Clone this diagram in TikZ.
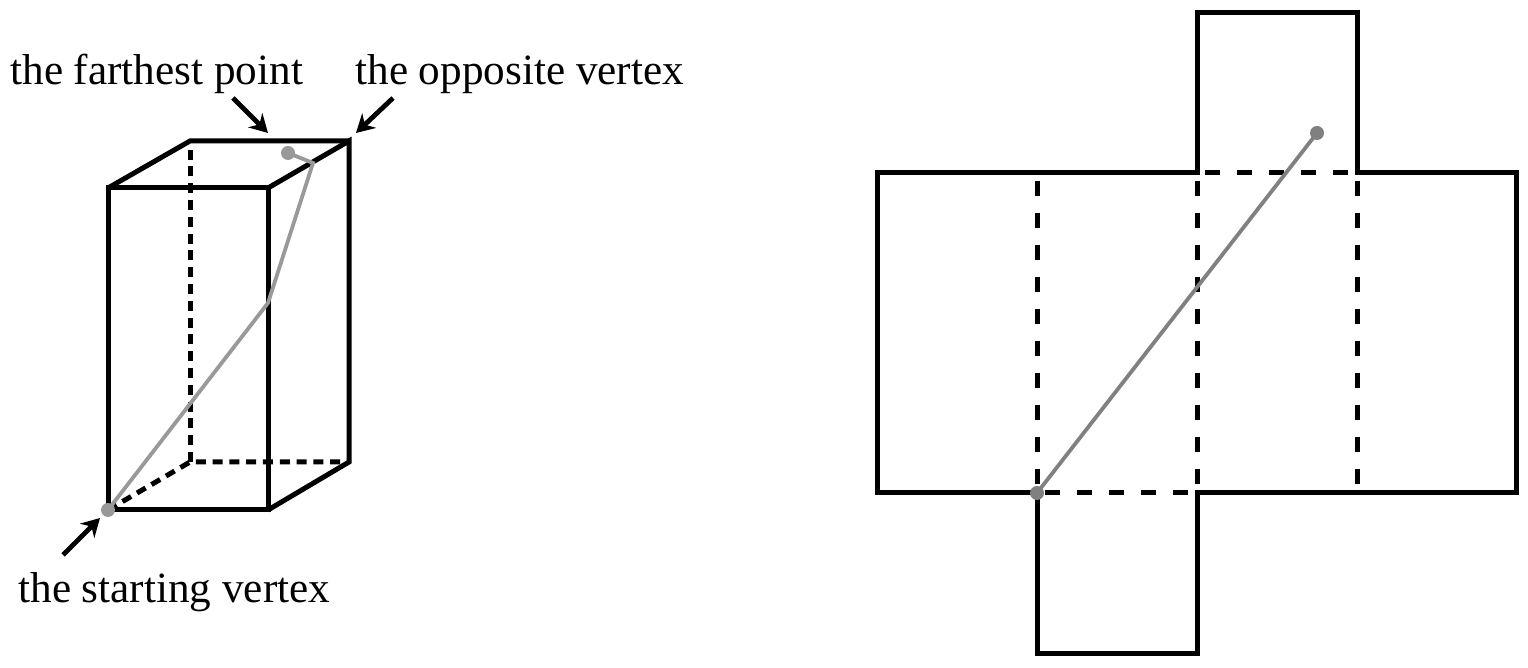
\documentclass[tikz,border=0pt]{standalone}
\usepackage{fontspec}
\setmainfont{Liberation Serif}
\usetikzlibrary{positioning,arrows.meta}

\tikzset{
  edgeline/.style={line width=2.5pt, line join=miter},
  hidden/.style={edgeline, dash pattern=on 5pt off 3.4pt},
  fold/.style={edgeline, dash pattern=on 7.5pt off 8.5pt, dash phase=12pt},
  route/.style={line width=1.9pt, black!40},
  netroute/.style={line width=1.9pt, black!50},
  dot/.style={circle, inner sep=0pt, minimum size=7pt, fill=black!40},
  netdot/.style={dot, fill=black!50},
  pointer/.style={line width=2.4pt, -{Stealth[length=9pt,width=10pt]}},
  caption/.style={inner sep=0pt, anchor=base west, font=\fontsize{21.6}{26}\selectfont},
}

\begin{document}
\begin{tikzpicture}[x=0.5pt, y=-0.5pt]
  \useasboundingbox (0,0) rectangle (1528,668);

  % Define corners of the box
  \coordinate (a) at (108,510);
  \coordinate (b) at (268,510);
  \coordinate (c) at (268,188);
  \coordinate (d) at (108,188);
  \coordinate (e) at (190,462);
  \coordinate (f) at (349,462);
  \coordinate (g) at (349,141);
  \coordinate (h) at (190,141);

  % Draw the box
  \draw[hidden] (a) -- (e) -- (f);
  \draw[hidden] (e) -- (h);
  \draw[edgeline] (a) -- (b) -- (c) -- (d) -- cycle;
  \draw[edgeline] (b) -- (f) -- (g) -- (c);
  \draw[edgeline] (d) -- (h) -- (g);

  % Path over the box
  \coordinate (p) at (268,303);
  \coordinate (q) at (313,163);
  \node[dot] (s) at (a) {};
  \node[dot] (t) at (288,153) {};
  \draw[route] (s.center) -- (p) -- (q) -- (t.center);

  % Labels and arrows
  \node[caption] (far)   at (10,85)  {the farthest point};
  \node[caption] (opp)   at (355,85) {the opposite vertex};
  \node[caption] (start) at (18,603) {the starting vertex};
  \coordinate (far tail)   at (233,98);
  \coordinate (far tip)    at (268,133);
  \coordinate (opp tail)   at (393,98);
  \coordinate (opp tip)    at (356,133);
  \coordinate (start tail) at (63,555);
  \coordinate (start tip)  at (100,518);
  \draw[pointer] (far tail) -- (far tip);
  \draw[pointer] (opp tail) -- (opp tip);
  \draw[pointer] (start tail) -- (start tip);

  % Define corners of the net
  \coordinate (n1) at (877,173);
  \coordinate (n2) at (1037,173);
  \coordinate (n3) at (1197,173);
  \coordinate (n4) at (1357,173);
  \coordinate (n5) at (1516,173);
  \coordinate (m1) at (877,493);
  \coordinate (m2) at (1037,493);
  \coordinate (m3) at (1197,493);
  \coordinate (m4) at (1357,493);
  \coordinate (m5) at (1516,493);
  \coordinate (top3) at (1197,13);
  \coordinate (top4) at (1357,13);
  \coordinate (bot2) at (1037,653);
  \coordinate (bot3) at (1197,653);

  % Draw the net
  \draw[edgeline] (n1) -- (n3) -- (top3) -- (top4) -- (n4) -- (n5) -- (m5)
    -- (m3) -- (bot3) -- (bot2) -- (m2) -- (m1) -- cycle;
  \foreach \i in {2,3,4}
    \draw[fold] (n\i) -- (m\i);
  \draw[fold] (m2) -- (m3);
  \draw[fold] (n3) -- (n4);

  % Path over the net
  \node[netdot] (u) at (m2) {};
  \node[netdot] (v) at (1317,133) {};
  \draw[netroute] (u.center) -- (v.center);
\end{tikzpicture}
\end{document}
